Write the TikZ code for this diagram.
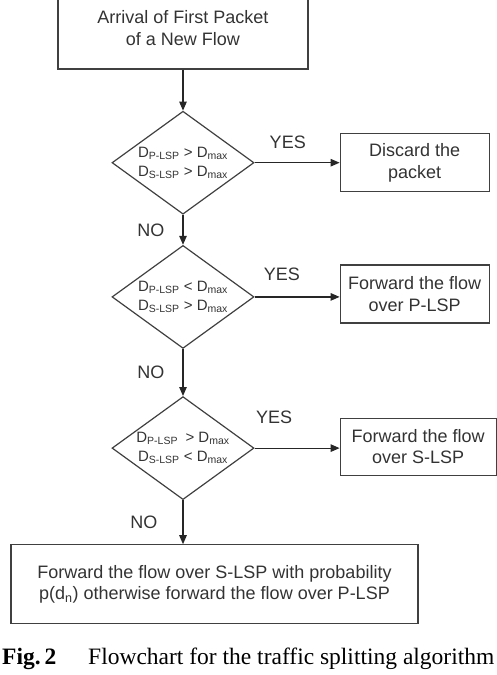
\documentclass[tikz,border=0pt]{standalone}
\usepackage{fontspec}
\setmainfont{Liberation Sans}
\newfontfamily\captionfont{Liberation Serif}
\usetikzlibrary{shapes.geometric, arrows.meta, positioning}

\begin{document}
\begin{tikzpicture}[
    node distance=40pt and 85pt,
    font=\fontsize{18}{21.5}\selectfont,
    block/.style={rectangle, draw=black!75, line width=1.2pt, text=black!80, align=center, inner sep=2pt},
    check/.style={diamond, draw=black!75, line width=1.2pt, text=black!80, align=center, aspect=1.38, inner sep=0pt, minimum width=142pt, minimum height=103pt, font=\fontsize{15}{19}\selectfont},
    answer/.style={inner sep=0pt, text=black!80},
    arrow/.style={-{Triangle[length=9pt, width=7.5pt]}, line width=1.2pt, draw=black!85}
]
    \useasboundingbox (0,0) rectangle (496pt,-675pt);

    % Entry and the three checks
    \node[block, minimum width=250pt, minimum height=82pt] (arrival) at (183pt,-28pt) {Arrival of First Packet\\of a New Flow};
    \node[check, below=41pt of arrival] (both_late) {D\textsubscript{P-LSP} > D\textsubscript{max}\\D\textsubscript{S-LSP} > D\textsubscript{max}};
    \node[check, below=30pt of both_late] (p_only) {D\textsubscript{P-LSP} < D\textsubscript{max}\\D\textsubscript{S-LSP} > D\textsubscript{max}};
    \node[check, below=47pt of p_only] (s_only) {D\textsubscript{P-LSP}\enspace> D\textsubscript{max}\\D\textsubscript{S-LSP} < D\textsubscript{max}};

    % Outcomes
    \node[block, minimum width=149pt, minimum height=58pt, right=of both_late] (discard) {Discard the\\packet};
    \node[block, minimum width=149pt, minimum height=58pt, right=of p_only, yshift=3pt] (fwd_p) {Forward the flow\\over P-LSP};
    \node[block, minimum width=156pt, minimum height=57pt, right=of s_only, yshift=1.5pt] (fwd_s) {Forward the flow\\over S-LSP};
    \node[block, minimum width=407pt, minimum height=79pt, below=44pt of s_only, xshift=31.5pt] (split_box) {Forward the flow over S-LSP with probability\\p(d\textsubscript{n}) otherwise forward the flow over P-LSP};

    % Connectors
    \draw[arrow] (arrival) -- (both_late);
    \draw[arrow] (both_late) -- node[answer, above=13pt, pos=0.39] {YES} (discard);
    \draw[arrow] (both_late) -- node[answer, left=18pt, pos=0.5] {NO} (p_only);
    \draw[arrow] (p_only) -- node[answer, above=16pt, pos=0.32] {YES} (p_only -| fwd_p.west);
    \draw[arrow] (p_only) -- node[answer, left=18pt, pos=0.5] {NO} (s_only);
    \draw[arrow] (s_only) -- node[answer, above=24pt, pos=0.23] {YES} (s_only -| fwd_s.west);
    \draw[arrow] (s_only) -- node[answer, left=25pt, pos=0.5] {NO} (s_only |- split_box.north);

    % Caption
    \node[anchor=base west, inner sep=0pt, font=\captionfont\fontsize{23.5}{28}\selectfont\bfseries] (fig_num) at (2pt,-664pt) {Fig.\,2};
    \node[anchor=base west, inner sep=0pt, font=\captionfont\fontsize{23.5}{28}\selectfont] (fig_text) at (88pt,-664pt) {Flowchart for the traffic splitting algorithm};
\end{tikzpicture}
\end{document}
